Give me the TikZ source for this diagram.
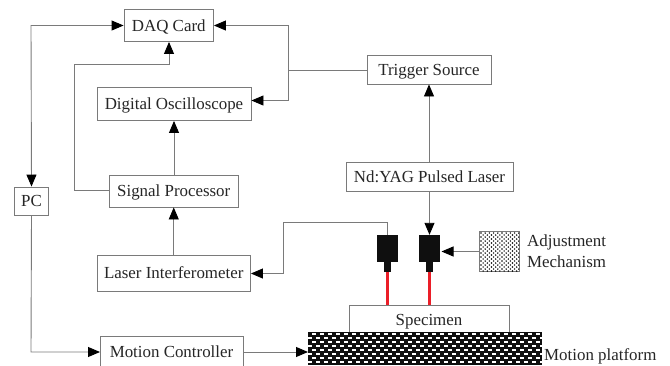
\documentclass[tikz,border=0pt]{standalone}
\usepackage{fontspec}
\setmainfont{Liberation Serif}
\usetikzlibrary{arrows.meta,calc}
\definecolor{ln}{gray}{0.48}
\definecolor{redb}{RGB}{235,30,40}
\definecolor{blk}{RGB}{15,15,15}
\tikzset{
  box/.style={draw=ln,line width=0.9pt,fill=white,inner sep=0pt,text height=12pt,text depth=1pt,font=\fontsize{16.9}{18}\selectfont,text=black!85},
  lbl/.style={inner sep=0pt,font=\fontsize{16.9}{18}\selectfont,text=black!85,anchor=base west},
  wire/.style={draw=ln,line width=0.9pt},
  arr/.style={wire,-{Triangle[length=12pt,width=10pt,black]}},
  darr/.style={wire,{Triangle[length=12pt,width=10pt,black]}-{Triangle[length=12pt,width=10pt,black]}},
  beam/.style={draw=redb,line width=3pt},
  head/.style={fill=blk,draw=none,inner sep=0pt}
}
\newcommand{\bx}[6]{\node[box,minimum width=#4pt-#3pt,minimum height=#6pt-#5pt] (#1) at ({(#3+#4)/2},{-(#5+#6)/2}) {#2};}
\begin{document}
\begin{tikzpicture}[x=1pt,y=1pt]
\useasboundingbox (0,0) rectangle (670,-365);
\fill[white] (0,0) rectangle (670,-365);
\bx{daq}{DAQ Card}{124}{213.5}{9.5}{41.5}
\bx{osc}{Digital Oscilloscope}{97}{251}{87}{120.5}
\bx{sig}{Signal Processor}{109}{238.5}{175}{207}
\bx{lif}{Laser Interferometer}{97}{250.5}{255.5}{291}
\bx{pc}{PC}{14.5}{48.5}{187}{215}
\bx{trg}{Trigger Source}{367}{491}{55.5}{84}
\bx{yag}{Nd:YAG Pulsed Laser}{346}{513}{162}{191}
\begin{scope}
\clip (0,0) rectangle (670,-365);
\bx{mot}{}{100}{243.5}{336}{372}
\end{scope}
\node[inner sep=0pt,font=\fontsize{16.9}{18}\selectfont,text=black!85,anchor=base] (mott) at (171.5,-357.3) {Motion Controller};
% specimen
\node[box,fill=none,minimum width=160pt,minimum height=28pt] (spc) at (429,-319.5) {Specimen};
% platform
\fill[blk] (308,-332) rectangle (542,-365);
\coordinate (plat) at (308,-352);
\begin{scope}
\clip (308,-332) rectangle (542,-365);
\foreach \r in {0,...,8}{
  \pgfmathsetmacro{\yy}{-333.4-\r*4}
  \pgfmathsetmacro{\off}{mod(\r,2)*4}
  \foreach \c in {0,...,30}{
    \fill[white] ({304+\off+\c*8},\yy) rectangle ++(4.2,-1.4);
  }
}
\end{scope}
\node[lbl] (mpl) at (544,-360) {Motion platform};
% sensors
\node[head,minimum width=21pt,minimum height=27pt] (s1) at (387.5,-248.5) {};
\node[head,minimum width=7pt,minimum height=11pt] (n1) at (387.5,-266.5) {};
\node[head,minimum width=21pt,minimum height=27pt] (s2) at (429.5,-248.5) {};
\node[head,minimum width=7pt,minimum height=11pt] (n2) at (429.5,-266.5) {};
\draw[beam] (n1.south) -- (n1.south |- spc.north);
\draw[beam] (n2.south) -- (n2.south |- spc.north);
% adjustment
\node[draw=ln,line width=0.9pt,minimum width=40pt,minimum height=40pt,inner sep=0pt] (adj) at (499.5,-251.5) {};
\begin{scope}
\clip (480,-232) rectangle (519,-271);
\foreach \r in {0,...,19}{
  \pgfmathsetmacro{\off}{mod(\r,2)*2.1}
  \foreach \c in {0,...,9}{
    \fill[black] ({481+\off+\c*4.2},{-233-\r*2}) circle (0.8pt);
  }
}
\end{scope}
\node[lbl] (adt) at (527,-246.7) {Adjustment};
\node[lbl] (met) at (527,-267.3) {Mechanism};
% connectors
\coordinate (c1) at (31,-25.5);
\draw[darr] (pc.north) -- (c1) -- (daq.west);
\coordinate (c2) at (288,-25.5);
\coordinate (c3) at (288,-100.5);
\coordinate (c4) at (288,-70);
\draw[arr] (c4) -- (c2) -- (daq.east);
\draw[arr] (c4) -- (c3) -- (osc.east |- c3);
\draw[wire] (trg.west |- c4) -- (c4);
\coordinate (c5) at (74,-190.5);
\coordinate (c6) at (74,-64.5);
\coordinate (c7) at (169,-64.5);
\draw[arr] (sig.west |- c5) -- (c5) -- (c6) -- (c7) -- (c7 |- daq.south);
\draw[arr] (sig.north -| osc.south) -- (osc.south);
\draw[arr] (lif.north -| sig.south) -- (sig.south);
\coordinate (c8) at (283.5,-222);
\coordinate (c9) at (387.5,-222);
\coordinate (c10) at (283.5,-273.5);
\draw[arr] (s1.north) -- (c9) -- (c8) -- (c10) -- (lif.east |- c10);
\draw[arr] (yag.north -| trg.south) -- (trg.south);
\draw[arr] (s2.north |- yag.south) -- (s2.north);
\coordinate (a1) at (479.5,-251.5);
\coordinate (a2) at (441.5,-251.5);
\draw[arr] (a1) -- (a2);
\coordinate (c11) at (31,-352);
\coordinate (m1) at (100,-352);
\coordinate (m2) at (243.5,-352);
\draw[arr] (pc.south) -- (c11) -- (m1);
\draw[arr] (m2) -- (plat);
\end{tikzpicture}
\end{document}
